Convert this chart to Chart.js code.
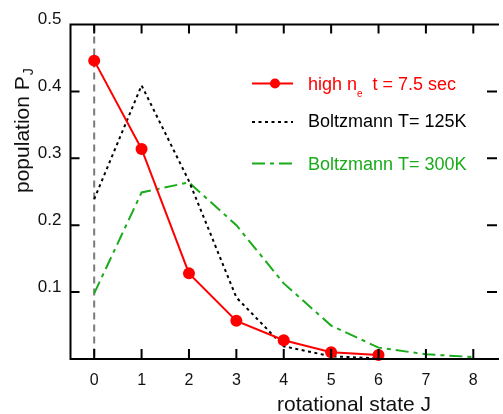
<!DOCTYPE html>
<html><head><meta charset="utf-8">
<script src="https://cdn.jsdelivr.net/npm/chart.js@4.4.0/dist/chart.umd.min.js"></script>
<style>html,body{margin:0;padding:0;background:#fff;overflow:hidden}#wrap{width:503px;height:414px;position:relative}canvas{display:block}</style>
</head><body><div id="wrap"><canvas id="c" width="503" height="414"></canvas></div>
<script>
// ---- data ----
const statesHigh = [0, 1, 2, 3, 4, 5, 6];
const highNe = [0.446, 0.314, 0.128, 0.057, 0.028, 0.010, 0.006];
const states125 = [0, 1, 2, 3, 4, 5, 6];
const boltz125 = [0.239, 0.409, 0.266, 0.092, 0.019, 0.004, 0.001];
const states300 = [0, 1, 2, 3, 4, 5, 6, 7, 8];
const boltz300 = [0.098, 0.249, 0.264, 0.200, 0.113, 0.050, 0.017, 0.007, 0.003];
const xTickValues = [0, 1, 2, 3, 4, 5, 6, 7, 8];
const yTickValues = [0.1, 0.2, 0.3, 0.4, 0.5];
const xTitle = 'rotational state J';
const yTitleMain = 'population P';
const yTitleSub = 'J';

const FONT = '"Liberation Sans", Arial, Helvetica, sans-serif';
const RED = '#ff0000', GREEN = '#1aab1a', BLACK = '#000000';

const pts = (xs, ys) => ys.map((v, i) => ({x: xs[i], y: v}));

const decor = {
  id: 'decor',
  beforeDatasetsDraw(chart) {
    const {ctx, chartArea: a, scales: {x}} = chart;
    ctx.save();
    ctx.strokeStyle = '#7a7a7a'; ctx.lineWidth = 2; ctx.setLineDash([7, 5]);
    const x0 = x.getPixelForValue(0);
    ctx.beginPath(); ctx.moveTo(x0, a.top); ctx.lineTo(x0, a.bottom); ctx.stroke();
    ctx.restore();
  },
  afterDatasetsDraw(chart) {
    const {ctx, chartArea: a, scales: {x, y}} = chart;
    ctx.save();
    ctx.strokeStyle = '#000'; ctx.lineWidth = 2; ctx.setLineDash([]);
    ctx.beginPath();
    ctx.moveTo(a.left, a.top); ctx.lineTo(a.right + 2, a.top);
    ctx.moveTo(a.left, a.top - 1); ctx.lineTo(a.left, a.bottom + 1);
    ctx.moveTo(a.left - 1, a.bottom); ctx.lineTo(a.right + 2, a.bottom);
    const tl = 9;
    xTickValues.forEach(v => {
      const px = x.getPixelForValue(v);
      ctx.moveTo(px, a.bottom); ctx.lineTo(px, a.bottom - tl - 1);
      ctx.moveTo(px, a.top); ctx.lineTo(px, a.top + tl);
    });
    yTickValues.forEach(v => {
      const py = y.getPixelForValue(v);
      ctx.moveTo(a.left, py); ctx.lineTo(a.left + tl, py);
      ctx.moveTo(a.right, py); ctx.lineTo(a.right - tl - 1, py);
    });
    ctx.stroke();
    ctx.restore();
  },
  afterDraw(chart) {
    const {ctx} = chart;
    ctx.save();
    // legend
    const ds = chart.data.datasets;
    const rows = [83.5, 122, 163.5];
    const x1 = 252, x2 = 293;
    ds.forEach((d, i) => {
      const yy = rows[i];
      ctx.strokeStyle = d.borderColor; ctx.lineWidth = d.borderWidth;
      ctx.setLineDash(d.borderDash || []);
      ctx.beginPath(); ctx.moveTo(x1, yy); ctx.lineTo(x2, yy); ctx.stroke();
      ctx.setLineDash([]);
      if (d.pointRadius > 0) {
        ctx.fillStyle = d.pointBackgroundColor;
        ctx.beginPath(); ctx.arc(275, yy, 5, 0, Math.PI * 2); ctx.fill();
      }
    });
    ctx.textBaseline = 'alphabetic'; ctx.textAlign = 'left';
    ctx.font = '18px ' + FONT;
    ctx.fillStyle = RED;
    ctx.fillText('high n', 308, 89.5);
    ctx.font = '10px ' + FONT;
    ctx.fillText('e', 357, 96.5);
    ctx.font = '18px ' + FONT;
    ctx.fillText('t = 7.5 sec', 372.5, 89.5);
    ctx.fillStyle = BLACK;
    ctx.fillText('Boltzmann T= 125K', 308, 126.5);
    ctx.fillStyle = GREEN;
    ctx.fillText('Boltzmann T= 300K', 308, 169.5);
    // axis titles
    ctx.fillStyle = '#111';
    ctx.font = '21px ' + FONT;
    ctx.textAlign = 'left';
    ctx.fillText(xTitle, 277, 411);
    ctx.translate(29, 193);
    ctx.rotate(-Math.PI / 2);
    ctx.fillText(yTitleMain, 0, 0);
    const w = ctx.measureText(yTitleMain).width;
    ctx.font = '14px ' + FONT;
    ctx.fillText(yTitleSub, w + 1, 4);
    ctx.restore();
  }
};

new Chart(document.getElementById('c'), {
  type: 'scatter',
  data: {
    datasets: [
      {label: 'high ne t = 7.5 sec', data: pts(statesHigh, highNe), showLine: true,
       borderColor: RED, borderWidth: 2, pointRadius: 6, pointBackgroundColor: RED,
       pointBorderWidth: 0, pointHoverRadius: 6, clip: false, order: 0},
      {label: 'Boltzmann T= 125K', data: pts(states125, boltz125), showLine: true,
       borderColor: BLACK, borderWidth: 2, borderDash: [3, 3.5], pointRadius: 0, clip: false, order: 1},
      {label: 'Boltzmann T= 300K', data: pts(states300, boltz300), showLine: true,
       borderColor: GREEN, borderWidth: 2, borderDash: [13, 5, 4, 5], pointRadius: 0, clip: false, order: 2}
    ]
  },
  options: {
    responsive: false, animation: false, devicePixelRatio: 1,
    layout: {padding: {top: 24.5, right: 0, left: 0, bottom: 0}},
    plugins: {legend: {display: false}, tooltip: {enabled: false}},
    scales: {
      x: {
        type: 'linear', min: -0.5, max: 8.5,
        grid: {display: false, drawTicks: false}, border: {display: false},
        afterBuildTicks: s => { s.ticks = xTickValues.map(v => ({value: v})); },
        afterFit: s => { s.height = 55; },
        ticks: {color: '#111', font: {family: FONT, size: 16}, padding: 12, maxRotation: 0,
                callback: v => String(v)}
      },
      y: {
        type: 'linear', min: 0, max: 0.5,
        grid: {display: false, drawTicks: false}, border: {display: false},
        afterBuildTicks: s => { s.ticks = yTickValues.map(v => ({value: v})); },
        afterFit: s => { s.width = 70.5; },
        ticks: {color: '#111', font: {family: FONT, size: 17}, padding: 9, labelOffset: -5,
                callback: v => Number(v).toFixed(1)}
      }
    }
  },
  plugins: [decor]
});
</script>
</body></html>
